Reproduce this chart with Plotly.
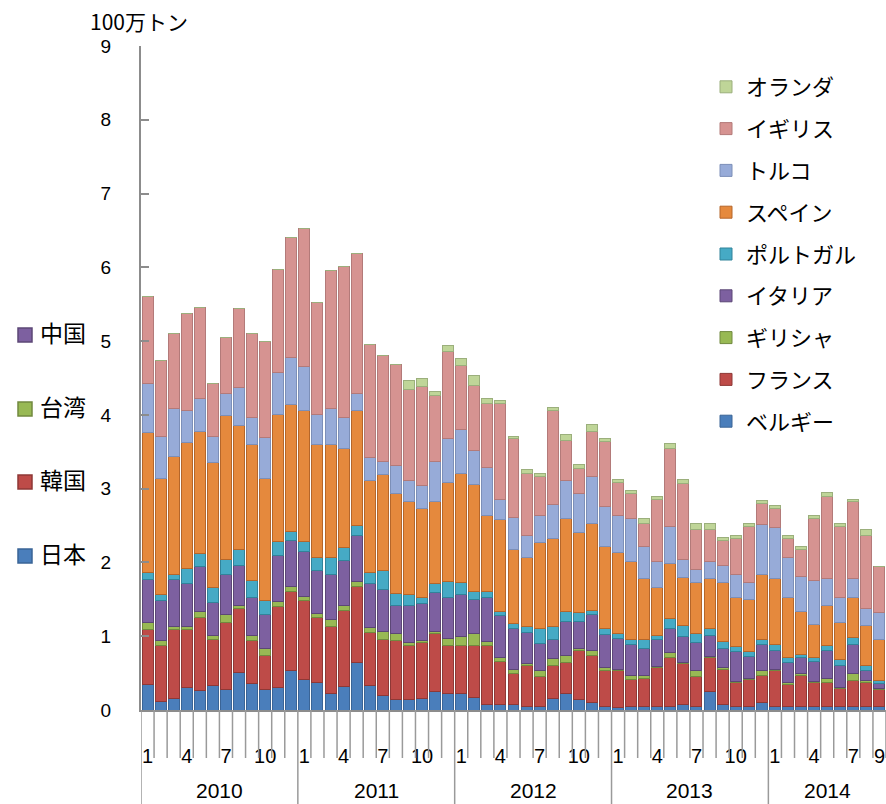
import plotly.graph_objects as go

years = ["2010", "2011", "2012", "2013", "2014"]
months_in_year = [12, 12, 12, 12, 9]
categories = [f"{y}-{m:02d}" for y, n in zip(years, months_in_year) for m in range(1, n + 1)]
month_numbers = [m for n in months_in_year for m in range(1, n + 1)]
shown_months = [1, 4, 7, 10]

belgium = [.35, .12, .15, .30, .27, .33, .28, .51, .36, .28, .30, .53,
           .41, .37, .23, .32, .65, .33, .20, .14, .14, .15, .25, .23,
           .23, .17, .07, .07, .07, .05, .05, .16, .23, .14, .10, .05,
           .04, .05, .05, .05, .05, .07, .05, .25, .07, .05, .05, .10,
           .05, .05, .05, .05, .05, .05, .05, .05, .05]
france = [.74, .75, .94, .79, .98, .62, .91, .87, .58, .46, 1.10, 1.07,
          1.07, .88, .90, 1.03, 1.03, .72, .75, .80, .74, .76, .79, .65,
          .64, .70, .80, .59, .43, .56, .40, .45, .41, .67, .64, .49,
          .49, .36, .38, .53, .66, .56, .40, .46, .48, .32, .36, .37,
          .48, .29, .42, .32, .32, .24, .35, .32, .23]
greece = [.10, .07, .04, .04, .08, .06, .11, .04, .07, .09, .07, .08,
          .06, .06, .09, .07, .06, .07, .11, .10, .03, .03, .02, .09,
          .12, .17, .06, .05, .05, .02, .08, .09, .10, .03, .07, .03,
          .02, .06, .04, .01, .07, .01, .08, .02, .03, .01, .02, .06,
          .02, .03, .03, .01, .06, .01, .10, .03, .01]
italy = [.58, .55, .64, .58, .61, .45, .54, .54, .52, .47, .63, .62,
         .61, .58, .62, .60, .63, .59, .57, .38, .50, .51, .53, .56,
         .57, .46, .60, .57, .56, .42, .37, .25, .46, .36, .48, .45,
         .42, .42, .36, .36, .32, .35, .39, .28, .25, .41, .30, .36,
         .26, .28, .21, .28, .38, .31, .39, .14, .07]
portugal = [.10, .07, .07, .21, .18, .20, .20, .21, .22, .19, .18, .12,
            .13, .18, .23, .18, .13, .15, .26, .16, .15, .08, .12, .21,
            .17, .10, .07, .05, .06, .08, .20, .18, .14, .12, .06, .09,
            .07, .07, .13, .06, .14, .15, .12, .10, .10, .07, .06, .07,
            .08, .06, .04, .05, .07, .07, .09, .06, .04]
spain = [1.89, 1.58, 1.59, 1.71, 1.66, 1.69, 1.95, 1.69, 1.85, 1.65, 1.73, 1.72,
         1.78, 1.53, 1.53, 1.35, 1.56, 1.25, 1.30, 1.35, 1.27, 1.20, 1.12, 1.35,
         1.48, 1.46, 1.03, 1.25, 1.00, .94, 1.17, 1.19, 1.26, 1.08, 1.18, 1.11,
         1.10, 1.05, .82, .65, .74, .66, .69, .67, .80, .66, .71, .88,
         .89, .81, .59, .45, .54, .51, .54, .54, .56]
turkey = [.66, .57, .66, .43, .44, .36, .30, .51, .36, .56, .57, .64,
          .59, .41, .48, .41, .23, .31, .18, .39, .28, .31, .54, .59,
          .59, .46, .66, .28, .44, .30, .36, .47, .51, .53, .64, .54,
          .49, .59, .44, .35, .51, .24, .18, .23, .23, .32, .23, .68,
          .69, .55, .47, .60, .36, .33, .26, .23, .36]
uk = [1.18, 1.03, 1.01, 1.32, 1.24, .72, .76, 1.07, 1.14, 1.30, 1.39, 1.62,
      1.88, 1.52, 1.88, 2.05, 1.90, 1.54, 1.44, 1.36, 1.24, 1.35, .89, 1.18,
      .87, .88, .87, 1.30, 1.07, .84, .53, 1.27, .54, .34, .61, .88,
      .45, .33, .31, .85, 1.06, 1.03, .54, .44, .34, .49, .76, .28,
      .26, .26, .36, .83, 1.11, .97, 1.04, 1.00, .63]
netherlands = [0, 0, 0, 0, 0, 0, 0, 0, 0, 0, 0, 0,
               0, 0, 0, 0, 0, 0, 0, 0, .11, .11, .06, .08,
               .09, .13, .06, .03, .03, .05, .04, .04, .08, .06, .09, .04,
               .04, .05, .06, .04, .06, .05, .08, .08, .04, .03, .04, .04,
               .04, .03, .04, .04, .06, .04, .04, .07, 0]

series_names = ["ベルギー", "フランス", "ギリシャ", "イタリア", "ポルトガル",
                "スペイン", "トルコ", "イギリス", "オランダ"]
series_values = [belgium, france, greece, italy, portugal, spain, turkey, uk, netherlands]
fill_colors = ["#4A7EBB", "#BE4B48", "#98B954", "#7D60A0", "#46AAC5",
               "#E5893D", "#97ABD8", "#D69391", "#BFD598"]
line_colors = ["#3A6496", "#8E3836", "#71893F", "#5C4776", "#31839A",
               "#B5662A", "#7C8FB8", "#B37A79", "#9BAF7C"]

left_legend_names = ["中国", "台湾", "韓国", "日本"]
left_legend_fill = ["#7D60A0", "#98B954", "#BE4B48", "#4A7EBB"]
left_legend_line = ["#5C4776", "#71893F", "#8E3836", "#3A6496"]

jp_font = "Noto Sans CJK JP"
num_font = "Liberation Sans, Arial, sans-serif"

fig = go.Figure()
for i, (name, vals) in enumerate(zip(series_names, series_values)):
    fig.add_trace(go.Bar(
        x=categories, y=vals, name=name, legendgroup=name,
        legendrank=100 - i,
        marker=dict(color=fill_colors[i], line=dict(color=line_colors[i], width=1)),
    ))

W, H = 886, 804
ml, mr, mt, mb = 141, 0, 46, 94
plot_h = H - mt - mb
pw = W - ml - mr

shapes = []
n = len(categories)
year_starts = []
idx = 0
for nm in months_in_year:
    year_starts.append(idx)
    idx += nm
for k in range(n + 1):
    is_year = k in year_starts
    shapes.append(dict(type="line", xref="x", yref="paper",
                       x0=k - 0.5, x1=k - 0.5, y0=0,
                       y1=-(94 if is_year else 48) / plot_h,
                       line=dict(color="#9A9A9A", width=1.5)))

annotations = []
for y, start, nm in zip(years, year_starts, months_in_year):
    annotations.append(dict(x=start - 0.5 + nm / 2, y=-80 / plot_h, xref="x", yref="paper",
                            text=y, showarrow=False, font=dict(size=21, color="#000", family=num_font),
                            xanchor="center", yanchor="middle"))
annotations.append(dict(x=(88 - ml) / pw, y=(plot_h + mt - 21) / plot_h,
                        xref="paper", yref="paper", text="100万トン", showarrow=False,
                        font=dict(size=21, color="#000", family=jp_font),
                        xanchor="left", yanchor="middle"))

left_y = [335, 409, 482, 556]
for name, fc, lc, yc in zip(left_legend_names, left_legend_fill, left_legend_line, left_y):
    yp = (H - mb - yc) / plot_h
    shapes.append(dict(type="rect", xref="paper", yref="paper",
                       x0=(18 - ml) / pw, x1=(32 - ml) / pw,
                       y0=yp - 7 / plot_h, y1=yp + 7 / plot_h,
                       fillcolor=fc, line=dict(color=lc, width=1.5)))
    annotations.append(dict(x=(38 - ml) / pw, y=yp + 3 / plot_h, xref="paper", yref="paper",
                            text=name, showarrow=False, xanchor="left", yanchor="middle",
                            font=dict(size=23, color="#000", family=jp_font)))

tickvals = [c for c, m in zip(categories, month_numbers) if m in shown_months] + [categories[-1]]
ticktext = [str(m) for m, c in zip(month_numbers, categories) if m in shown_months] + [str(month_numbers[-1])]

fig.update_layout(
    width=W, height=H,
    margin=dict(l=ml, r=mr, t=mt, b=mb, pad=0),
    barmode="stack", bargap=0.16,
    plot_bgcolor="white", paper_bgcolor="white",
    showlegend=True,
    legend=dict(x=(706 - ml) / pw, y=(H - mb - 66) / plot_h, xanchor="left", yanchor="top",
                traceorder="grouped", tracegroupgap=10.2,
                font=dict(size=22, color="#000", family=jp_font),
                bgcolor="rgba(0,0,0,0)", itemwidth=30),
    xaxis=dict(type="category", categoryorder="array", categoryarray=categories,
               range=[-0.5, n - 0.5],
               tickvals=tickvals, ticktext=ticktext, ticks="",
               tickfont=dict(size=20, color="#000", family=num_font),
               ticklabelstandoff=27,
               showline=True, linecolor="#8C8C8C", linewidth=2, showgrid=False),
    yaxis=dict(range=[0, 9], dtick=1, tick0=0, ticks="inside", ticklen=8, tickwidth=2,
               tickcolor="#8C8C8C", showline=True, linecolor="#8C8C8C", linewidth=2,
               showgrid=False, zeroline=False,
               tickfont=dict(size=19, color="#000", family=num_font),
               ticklabelstandoff=24),
    shapes=shapes, annotations=annotations,
)

fig.write_html("out.html", config={"displayModeBar": False},
               post_script="document.body.style.margin='0';")
